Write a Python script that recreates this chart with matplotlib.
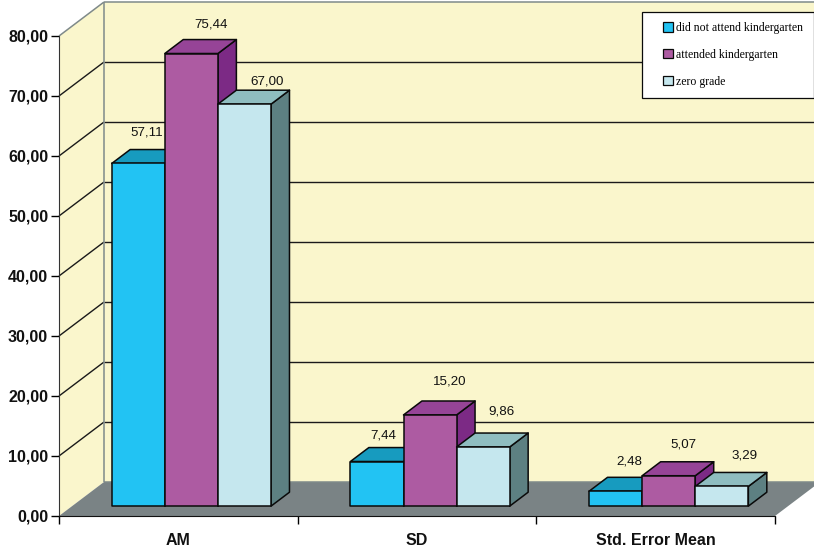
import matplotlib
matplotlib.use('Agg')
import matplotlib.pyplot as plt
from matplotlib.legend_handler import HandlerPatch
from matplotlib.patches import Polygon, Rectangle

# values per group
categories = ['AM', 'SD', 'Std. Error Mean']
no_kindergarten = [57.11, 7.44, 2.48]
kindergarten = [75.44, 15.20, 5.07]
zero_grade = [67.00, 9.86, 3.29]
series_names = ['did not attend kindergarten', 'attended kindergarten', 'zero grade']
y_ticks = [0, 10, 20, 30, 40, 50, 60, 70, 80]

# (front, top, side) colours of each series
colors = [('#22C3F3', '#179BBF', '#127C98'),
          ('#AD5BA2', '#964497', '#7C2A85'),
          ('#C5E7EE', '#8FBDC0', '#5D8082')]
# label shift from the centre of each bar's top, in pixels
label_shift = [[(8, 17), (20, 15), (23, 9)],
               [(6, 12), (20, 19), (18, 22)],
               [(14, 16), (15, 17), (23, 17)]]

W, H = 814, 553
fig = plt.figure(figsize=(W / 100, H / 100), dpi=100, facecolor='white')
ax = fig.add_axes([59 / W, 1 - 516 / H, 716 / W, 480 / H])
ax.set_xlim(0, 3)
ax.set_ylim(0, 80)
ax.patch.set_visible(False)

# oblique projection: full depth moves a point 45 px right and 34 px up
DX = 45 / (716 / 3)
DY = 34 / 6


def pt(x, y, d=0.0):
    return (x + DX * d, y + DY * d)


def face(points, fc, ec='none', lw=1.0, z=1):
    ax.add_patch(Polygon(points, closed=True, facecolor=fc, edgecolor=ec,
                         linewidth=lw, zorder=z, clip_on=False, joinstyle='round'))


# walls and floor
wall = '#FAF6CC'
edge = '#7F8A8A'
face([pt(0, 0), pt(0, 80), pt(0, 80, 1), pt(0, 0, 1)], wall)
face([pt(0, 0, 1), pt(0, 80, 1), pt(3, 80, 1), pt(3, 0, 1)], wall)
face([pt(0, 0), pt(3, 0), pt(3, 0, 1), pt(0, 0, 1)], '#7A8385')


def line(a, b, color='#1A1A1A', lw=1.0, z=2):
    ax.plot([a[0], b[0]], [a[1], b[1]], color=color, lw=lw, zorder=z,
            clip_on=False, solid_capstyle='butt')


for v in y_ticks[1:-1]:
    line(pt(0, v), pt(0, v, 1))
    line(pt(0, v, 1), pt(3, v, 1))
line(pt(0, 80), pt(0, 80, 1), edge, 1.1)
line(pt(0, 80, 1), pt(3, 80, 1), edge, 1.1)
line(pt(0, 0, 1), pt(0, 80, 1), edge, 1.1)
line(pt(0, 0, 1), pt(3, 0, 1), edge, 1.1)

# bars
bar_w = 53.1 / (716 / 3)
d0, d1 = 0.29, 0.70
group_left = 0.5 - 1.5 * bar_w
series = [no_kindergarten, kindergarten, zero_grade]
z = 3
for g in range(len(categories)):
    for s in range(len(series)):
        v = series[s][g]
        x0 = g + group_left + s * bar_w
        x1 = x0 + bar_w
        front, top, side = colors[s]
        face([pt(x1, 0, d0), pt(x1, 0, d1), pt(x1, v, d1), pt(x1, v, d0)], side, '#0A0A0A', 1.1, z)
        face([pt(x0, v, d0), pt(x1, v, d0), pt(x1, v, d1), pt(x0, v, d1)], top, '#0A0A0A', 1.1, z)
        face([pt(x0, 0, d0), pt(x1, 0, d0), pt(x1, v, d0), pt(x0, v, d0)], front, '#0A0A0A', 1.1, z)
        z += 1
        sx, sy = label_shift[g][s]
        cx = pt((x0 + x1) / 2, v, d0)[0]
        ax.annotate(f'{v:.2f}'.replace('.', ','), xy=(cx, pt(0, v, d1)[1]), xytext=(sx * 0.72, sy * 0.72),
                    textcoords='offset points', ha='center', va='center', fontsize=9.6,
                    family='Liberation Sans', color='#111111', zorder=30, annotation_clip=False)

# axes
for name in ['top', 'right']:
    ax.spines[name].set_visible(False)
ax.spines['left'].set_color('#333333')
ax.spines['bottom'].set_color('#111111')
ax.spines['left'].set_zorder(2)
ax.spines['bottom'].set_zorder(2)
ax.set_yticks(y_ticks)
ax.set_yticklabels([f'{v:.2f}'.replace('.', ',') for v in y_ticks],
                   fontsize=11.5, fontweight='bold', family='Liberation Sans', color='#111111')
ax.tick_params(axis='y', length=5.8, width=1.0, pad=2)
ax.set_xticks([0, 1, 2, 3])
ax.set_xticklabels([])
ax.tick_params(axis='x', which='major', length=5.8, width=1.0)
ax.set_xticks([0.5, 1.5, 2.5], minor=True)
ax.set_xticklabels(categories, minor=True, fontsize=11.5, fontweight='bold',
                   family='Liberation Sans', color='#111111')
ax.tick_params(axis='x', which='minor', length=0, pad=12.5)


# legend swatch sits at the right end of its handle box
class SwatchHandler(HandlerPatch):
    def create_artists(self, legend, orig_handle, xdescent, ydescent, width, height, fontsize, trans):
        size = 6.8
        p = Rectangle((width - size - xdescent, (height - size) / 2 - ydescent), size, size,
                      facecolor=orig_handle.get_facecolor(), edgecolor=orig_handle.get_edgecolor(),
                      linewidth=orig_handle.get_linewidth(), transform=trans)
        return [p]


handles = [Rectangle((0, 0), 1, 1, facecolor=c[0], edgecolor='#0A0A0A', linewidth=0.9) for c in colors]
leg = fig.legend(handles, series_names, loc='upper right', bbox_to_anchor=(813.5 / W, 1 - 12 / H),
                 bbox_transform=fig.transFigure, borderaxespad=0, fancybox=False, framealpha=1,
                 edgecolor='#0A0A0A', facecolor='white', borderpad=0.85, labelspacing=1.25,
                 handlelength=1.8, handleheight=0.85, handletextpad=0.3,
                 handler_map={Rectangle: SwatchHandler()},
                 prop={'family': 'Liberation Serif', 'size': 8.5})
leg.get_frame().set_linewidth(0.9)
leg.set_zorder(40)

fig.savefig('out.png', dpi=100)
